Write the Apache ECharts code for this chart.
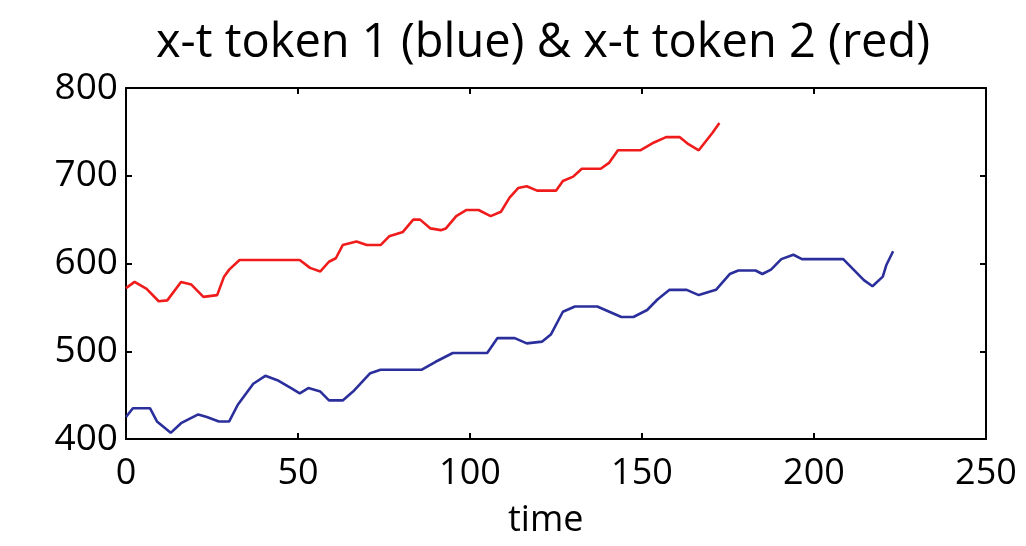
<!DOCTYPE html>
<html>
<head>
<meta charset="utf-8">
<script src="https://cdn.jsdelivr.net/npm/echarts@6/dist/echarts.min.js"></script>
<style>
  html, body { margin: 0; padding: 0; background: #fff; }
  #chart { width: 1026px; height: 546px; }
</style>
</head>
<body>
<div id="chart"></div>
<script>
const TITLE = 'x-t token 1 (blue) & x-t token 2 (red)'
const X_NAME = 'time'
const X_TICKS = [0, 50, 100, 150, 200, 250]
const Y_TICKS = [400, 500, 600, 700, 800]

// token 1 (blue): [time, x]
const token1 = [
  [0, 425], [2, 435], [7, 435], [9, 420], [13, 407], [16, 418], [21, 428],
  [23.5, 425], [27, 420], [30, 420], [32.5, 439], [37, 463], [40.5, 472],
  [44, 467], [48, 458], [50.5, 452], [53, 458], [56.5, 454], [59, 444],
  [63, 444], [66, 454], [71, 475], [74, 479], [86, 479], [90, 488],
  [95, 498], [105, 498], [108, 515], [113, 515], [116.5, 509], [121, 511],
  [123.5, 519], [127, 545], [130.5, 551], [137, 551], [140.5, 545],
  [144, 539], [147.5, 539], [151.5, 547], [154.5, 559], [158, 570],
  [163, 570], [166.5, 564], [171.5, 570], [175.5, 588], [178, 592],
  [183, 592], [185, 588], [187.5, 593], [190.5, 605], [194, 610],
  [196.5, 605], [208.5, 605], [211.5, 593], [214.5, 581], [217, 574],
  [220, 585], [221, 598], [223, 614]
]

// token 2 (red): [time, x]
const token2 = [
  [0, 572], [2.5, 579], [6, 571], [9.5, 557], [12, 558], [16, 579],
  [19, 576], [22.5, 562], [26.5, 564], [28.5, 585], [30, 593], [33, 604],
  [50.5, 604], [53.5, 595], [56.5, 591], [59, 602], [61, 606], [63, 621],
  [67, 625], [70, 621], [74, 621], [76.5, 631], [80.5, 636], [83.5, 650],
  [85.5, 650], [88.5, 640], [91.5, 638], [93, 640], [96, 654], [99, 661],
  [102.5, 661], [106, 654], [109, 659], [111.5, 675], [114, 686],
  [116.5, 688], [119.5, 683], [125, 683], [127, 694], [130, 699],
  [132.5, 708], [138, 708], [140.5, 715], [143, 729], [149.5, 729],
  [153, 737], [157, 744], [161, 744], [163.5, 736], [166.5, 729],
  [168.5, 739], [170.5, 749], [172.5, 760]
]

const FONT = 'Open Sans'
const chart = echarts.init(document.getElementById('chart'))

function frameLine() {
  return { show: true, onZero: false, lineStyle: { color: '#000', width: 2 } }
}

function innerTick() {
  return { show: true, inside: true, length: 6, lineStyle: { color: '#000', width: 2 } }
}

function axisBase(type, min, max, interval, position) {
  return {
    type,
    position,
    min,
    max,
    interval,
    axisLine: frameLine(),
    axisTick: innerTick(),
    splitLine: { show: false },
    axisLabel: { show: false }
  }
}

const xBottom = axisBase('value', X_TICKS[0], X_TICKS[X_TICKS.length - 1], 50, 'bottom')
xBottom.axisLabel = { show: true, fontFamily: FONT, fontSize: 36, color: '#000', margin: 17 }
const xTop = axisBase('value', X_TICKS[0], X_TICKS[X_TICKS.length - 1], 50, 'top')

const yLeft = axisBase('value', Y_TICKS[0], Y_TICKS[Y_TICKS.length - 1], 100, 'left')
yLeft.axisLabel = { show: true, fontFamily: FONT, fontSize: 37, color: '#000', margin: 8 }
const yRight = axisBase('value', Y_TICKS[0], Y_TICKS[Y_TICKS.length - 1], 100, 'right')

chart.setOption({
  animation: false,
  backgroundColor: '#fff',
  title: [
    {
      text: TITLE,
      left: 151,
      top: 15,
      textStyle: { fontFamily: FONT, fontSize: 47, fontWeight: 'normal', color: '#000' }
    },
    {
      text: X_NAME,
      left: 503,
      top: 498,
      textStyle: { fontFamily: FONT, fontSize: 36, fontWeight: 'normal', color: '#000' }
    }
  ],
  grid: { left: 126, right: 40, top: 88, bottom: 107 },
  xAxis: [xBottom, xTop],
  yAxis: [yLeft, yRight],
  series: [
    {
      name: 'token 1',
      type: 'line',
      xAxisIndex: 0,
      yAxisIndex: 0,
      data: token1,
      showSymbol: false,
      lineStyle: { color: '#2b2f9c', width: 2.6 }
    },
    {
      name: 'token 2',
      type: 'line',
      xAxisIndex: 0,
      yAxisIndex: 0,
      data: token2,
      showSymbol: false,
      lineStyle: { color: '#f01c1c', width: 2.6 }
    }
  ]
})
</script>
</body>
</html>
